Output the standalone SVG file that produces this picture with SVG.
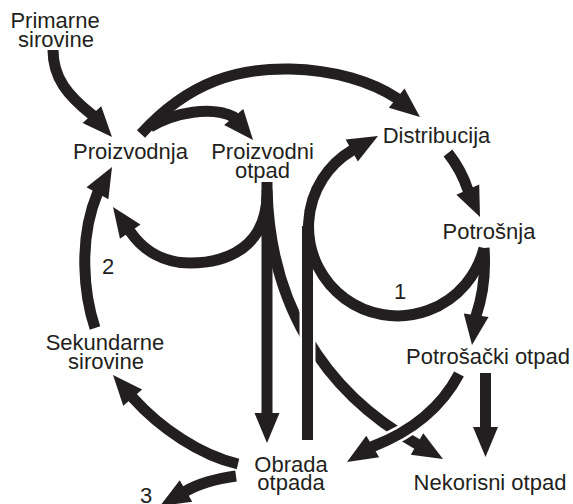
<svg xmlns="http://www.w3.org/2000/svg" xmlns:xlink="http://www.w3.org/1999/xlink" width="573" height="504" viewBox="0 0 573 504">
  <style>
    .lbl { font-family: "Liberation Sans", Arial, sans-serif; font-size: 22px; fill: #231f20; text-anchor: middle; }
    .c { fill: none; stroke: #231f20; stroke-width: 11; stroke-linecap: butt; stroke-linejoin: round; }
    .w { fill: none; stroke: #ffffff; stroke-width: 16; stroke-linecap: butt; }
    .ah { fill: #231f20; }
  </style>
  <defs>
    <path id="ah" class="ah" d="M0,0 L-30,-12.5 L-30,12.5 Z"/>
  </defs>
  <rect width="573" height="504" fill="#ffffff"/>

  <g id="connectors">
    <!-- Primarne sirovine -> Proizvodnja -->
    <path class="c" d="M 53 50 C 53 78, 68 96, 91.9 114.7 L 94.6 117.7"/>
    <use xlink:href="#ah" transform="translate(112 137) rotate(48)"/>
    <!-- Proizvodnja -> Distribucija -->
    <path class="c" d="M 141 134 C 190 80, 240 68, 290 69 C 335 70, 372 82, 396.7 98.1 L 399.8 100.6"/>
    <use xlink:href="#ah" transform="translate(420 117) rotate(39)"/>
    <!-- Proizvodnja -> Proizvodni otpad -->
    <path class="c" d="M 150 127 C 175 112, 212 106, 233.7 117 L 236.3 120.1"/>
    <use xlink:href="#ah" transform="translate(253 140) rotate(50)"/>
    <!-- Proizvodni otpad -> Proizvodnja -->
    <path class="c" d="M 267 195 C 266 245, 230 263, 190 263 C 163 263, 143 250, 130.2 231.6 L 127.9 228.3"/>
    <use xlink:href="#ah" transform="translate(113 207) rotate(235)"/>
    <!-- Sekundarne sirovine -> Proizvodnja (2) -->
    <path class="c" d="M 95 328 C 84 295, 78 240, 97.5 193.2 L 99.4 189.7"/>
    <use xlink:href="#ah" transform="translate(112 167) rotate(-61)"/>
    <!-- Potrosnja -> loop (1) -> Distribucija -->
    <path class="c" d="M 484 248 A 89 89 0 1 1 351.8 150.5 L 355.2 148.6"/>
    <use xlink:href="#ah" transform="translate(378 136) rotate(-29)"/>
    <!-- Distribucija -> Potrosnja -->
    <path class="c" d="M 448 153 C 455 162, 463 175, 467.8 189.6 L 469.4 193.2"/>
    <use xlink:href="#ah" transform="translate(480 217) rotate(66)"/>
    <!-- Potrosnja -> Potrosacki otpad -->
    <path class="c" d="M 484 248 C 486 275, 482 298, 476.2 315.3 L 475.6 319.3"/>
    <use xlink:href="#ah" transform="translate(472 345) rotate(98)"/>
    <!-- Proizvodni otpad -> Obrada otpada -->
    <path class="c" d="M 267 182 L 267 417"/>
    <use xlink:href="#ah" transform="translate(267 443) rotate(90)"/>
    <!-- Proizvodni otpad -> Nekorisni otpad -->
    <path class="c" d="M 267 190 C 270 300, 320 390, 417 444 L 420.5 446"/>
    <use xlink:href="#ah" transform="translate(443 459) rotate(30)"/>
    <!-- Obrada otpada -> Distribucija (vertical) -->
    <path class="w" d="M 307.5 300 L 307.5 365"/>
    <path class="c" d="M 307.5 440 L 307.5 226"/>
    <!-- Potrosacki otpad -> Nekorisni otpad -->
    <path class="c" d="M 485.5 373 L 485.5 431"/>
    <use xlink:href="#ah" transform="translate(485.5 457) rotate(90)"/>
    <!-- Potrosacki otpad -> Obrada otpada -->
    <path class="w" d="M 459 374 C 440 410, 410 432, 372.7 446.5"/>
    <path class="c" d="M 459 374 C 440 410, 410 432, 372.7 446.5 L 369.3 448.6"/>
    <use xlink:href="#ah" transform="translate(347 462) rotate(149)"/>
    <!-- Obrada otpada -> Sekundarne sirovine -->
    <path class="c" d="M 238 464 C 200 455, 160 428, 132.7 397.6 L 130.1 394.6"/>
    <use xlink:href="#ah" transform="translate(113 375) rotate(229)"/>
    <!-- Obrada otpada -> 3 -->
    <path class="c" d="M 236 476 C 215 479, 198 484, 186 491 L 182.5 493"/>
    <use xlink:href="#ah" transform="translate(160 506) rotate(150)"/>
    <!-- edge labels -->
    <text class="lbl" x="400" y="299">1</text>
    <text class="lbl" x="108" y="273.5">2</text>
    <text class="lbl" x="146" y="503">3</text>
  </g>

  <g id="n-primarne-sirovine">
    <text class="lbl"><tspan x="55" y="28">Primarne</tspan><tspan x="56" y="46.5">sirovine</tspan></text>
  </g>
  <g id="n-proizvodnja">
    <text class="lbl" x="130.5" y="159">Proizvodnja</text>
  </g>
  <g id="n-proizvodni-otpad">
    <text class="lbl"><tspan x="262.5" y="159">Proizvodni</tspan><tspan x="262.5" y="177.5">otpad</tspan></text>
  </g>
  <g id="n-distribucija">
    <text class="lbl" x="436.5" y="143">Distribucija</text>
  </g>
  <g id="n-potrosnja">
    <text class="lbl" x="489" y="238.5">Potrošnja</text>
  </g>
  <g id="n-potrosacki-otpad">
    <text class="lbl" x="488" y="363.5">Potrošački otpad</text>
  </g>
  <g id="n-sekundarne-sirovine">
    <text class="lbl"><tspan x="105" y="350">Sekundarne</tspan><tspan x="106" y="368.5">sirovine</tspan></text>
  </g>
  <g id="n-obrada-otpada">
    <text class="lbl"><tspan x="291" y="471.5">Obrada</tspan><tspan x="291" y="490">otpada</tspan></text>
  </g>
  <g id="n-nekorisni-otpad">
    <text class="lbl" x="490" y="490">Nekorisni otpad</text>
  </g>
</svg>
